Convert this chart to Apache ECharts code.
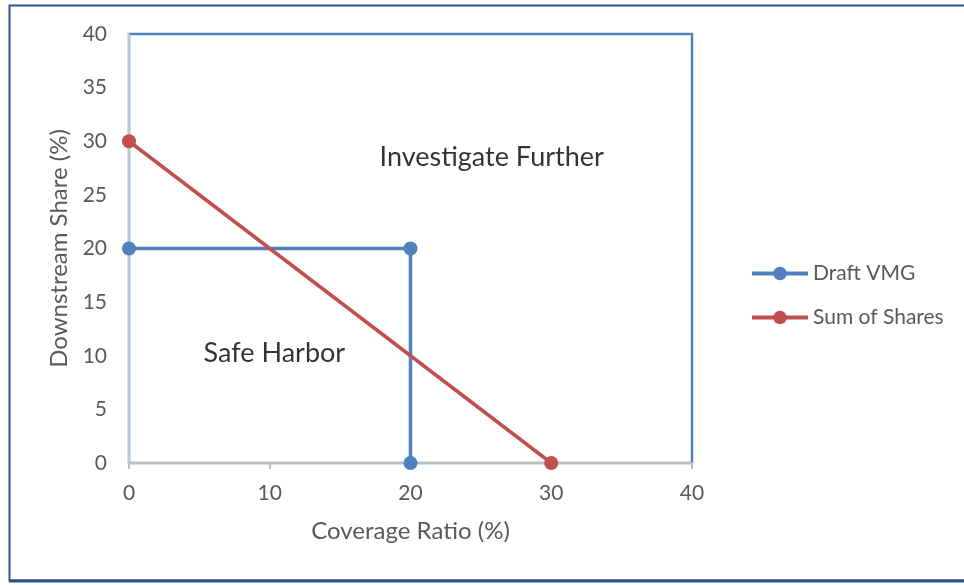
<!DOCTYPE html>
<html><head><meta charset="utf-8">
<script src="https://cdn.jsdelivr.net/npm/echarts@6/dist/echarts.min.js"></script>
<style>html,body{margin:0;padding:0;background:#fff}#c{width:964px;height:585px}</style>
</head><body><div id="c"></div>
<script>
const draftVMG = [[0,20],[20,20],[20,0]];
const sumOfShares = [[0,30],[30,0]];
const axisTicks = [0,10,20,30,40];
const regionLabels = [{name:'Investigate Further', x:17.8, y:28.5},{name:'Safe Harbor', x:5.3, y:10.2}];

const chart = echarts.init(document.getElementById('c'));
const font = 'Lato, Carlito, "Noto Sans", sans-serif';
chart.setOption({
  animation:false,
  textStyle:{fontFamily:font},
  graphic:[
    {type:'rect', shape:{x:9.5,y:5.5,width:970,height:575}, style:{fill:null,stroke:'#2f5597',lineWidth:2}, z:-1},
    {type:'line', shape:{x1:9,y1:581,x2:964,y2:581}, style:{stroke:'#2f4f80',lineWidth:3}}
  ],
  grid:{left:129,right:272,top:34,bottom:122,show:true,borderColor:'#4f81bd',borderWidth:2.5,backgroundColor:'transparent'},
  legend:{orient:'vertical',left:745,top:258,itemGap:23,itemWidth:56,itemHeight:17,
    lineStyle:{width:4},
    textStyle:{fontSize:21,color:'#595959',fontFamily:font},
    data:['Draft VMG','Sum of Shares']},
  xAxis:{type:'value',min:0,max:40,interval:10,name:'Coverage Ratio (%)',nameLocation:'middle',nameGap:56,
    nameTextStyle:{fontSize:24,color:'#595959'},
    axisLine:{show:true,lineStyle:{color:'#bfbfbf',width:2}},
    axisTick:{show:true,length:6,lineStyle:{color:'#bfbfbf',width:2}},
    axisLabel:{fontSize:21,color:'#595959',margin:20},
    splitLine:{show:false}},
  yAxis:{type:'value',min:0,max:40,interval:5,name:'Downstream Share (%)',nameLocation:'middle',nameGap:58,
    nameTextStyle:{fontSize:24,color:'#595959'},
    axisLine:{show:true,lineStyle:{color:'#b9c9dc',width:2}},
    axisTick:{show:false},
    axisLabel:{fontSize:21,color:'#595959',margin:22},
    splitLine:{show:false}},
  series:[
    {name:'Draft VMG',type:'line',data:draftVMG,symbol:'circle',symbolSize:14,
      lineStyle:{color:'#4f81bd',width:3.5},itemStyle:{color:'#4f81bd'}},
    {name:'Sum of Shares',type:'line',data:sumOfShares,symbol:'circle',symbolSize:14,
      lineStyle:{color:'#c0504d',width:3.5},itemStyle:{color:'#c0504d'}},
    {name:'labels',type:'scatter',data:regionLabels.map(r=>({value:[r.x,r.y],name:r.name})),
      symbolSize:0,silent:true,
      label:{show:true,position:'right',distance:0,formatter:p=>p.name,fontSize:27,color:'#000',fontFamily:font}}
  ]
});
</script></body></html>
